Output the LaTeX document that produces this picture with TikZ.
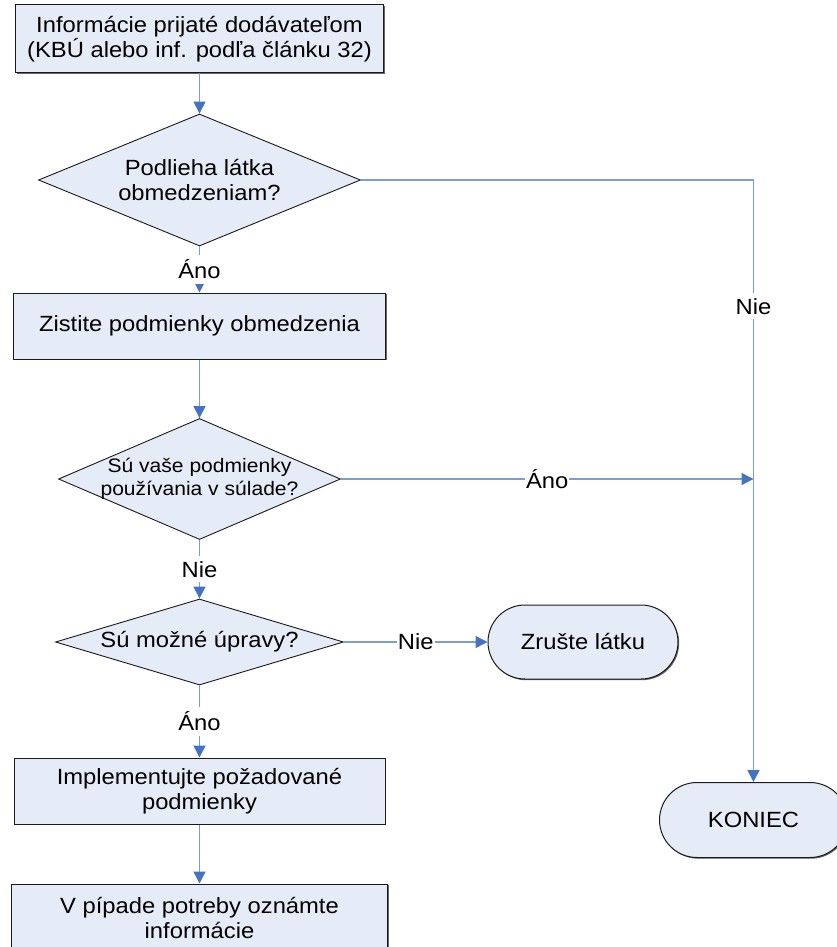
\documentclass[tikz,border=0pt]{standalone}
\usepackage{fontspec}
\setmainfont{Liberation Sans}[FakeStretch=1.08]
\usetikzlibrary{shapes.geometric,shapes.misc,arrows.meta,shadows}

\definecolor{boxfill}{HTML}{E6ECF7}
\definecolor{edgeblue}{HTML}{7A9DD4}
\definecolor{tipblue}{HTML}{4472C4}
\definecolor{border}{HTML}{1A1A1A}

\tikzset{
  basefont/.style={font=\fontsize{22pt}{25pt}\selectfont},
  process/.style={basefont, rectangle, draw=border, line width=1pt, fill=boxfill,
    align=center, inner sep=0pt,
    drop shadow={shadow xshift=1.2pt, shadow yshift=-1.2pt, fill=black!60, opacity=1}},
  terminal/.style={basefont, rounded rectangle, draw=border, line width=1pt, fill=boxfill,
    align=center, inner sep=0pt,
    drop shadow={shadow xshift=1.2pt, shadow yshift=-1.2pt, fill=black!60, opacity=1}},
  decision/.style={diamond, draw=border, line width=0.9pt, fill=boxfill, inner sep=0pt},
  dtext/.style={basefont, align=center, inner sep=0pt},
  conn/.style={draw=edgeblue, line width=1.4pt,
    -{Triangle[length=12pt,width=12pt,fill=tipblue,color=tipblue]}},
  lbl/.style={basefont, fill=white, inner xsep=1pt, inner ysep=5pt, text=black}
}

\begin{document}
\begin{tikzpicture}[x=1pt, y=-1pt]
  \useasboundingbox (0,0) rectangle (837,947);

  % main column
  \node[process, minimum width=368pt, minimum height=68pt] (b1) at (199.5,39)
    {Informácie prijaté dodávateľom\\(KBÚ alebo inf. podľa článku 32)};
  \node[decision, minimum width=322pt, minimum height=132pt,
        label={[dtext]center:{Podlieha látka\\obmedzeniam?}}] (d1) at (199.5,180) {};
  \node[process, minimum width=372pt, minimum height=66pt] (b2) at (199.5,326)
    {Zistite podmienky obmedzenia};
  \node[decision, minimum width=282pt, minimum height=121pt,
        label={[dtext, font=\fontsize{19.5pt}{23pt}\selectfont]center:{Sú vaše podmienky\\používania v súlade?}}] (d2) at (199.5,479) {};
  \node[decision, minimum width=288pt, minimum height=86pt,
        label={[dtext]center:{Sú možné úpravy?}}] (d3) at (199.5,642) {};
  \node[process, minimum width=371pt, minimum height=66pt] (b3) at (199.5,791)
    {Implementujte požadované\\podmienky};
  \node[process, minimum width=376pt, minimum height=68pt] (b4) at (199.5,918)
    {V pípade potreby oznámte\\informácie};

  % side terminals
  \node[terminal, minimum width=190pt, minimum height=74pt] (zr) at (583,642) {Zrušte látku};
  \node[terminal, minimum width=188pt, minimum height=75pt] (kon) at (753.5,820) {KONIEC};
  \coordinate (jn) at (kon.north |- d2.east);

  % connectors
  \draw[conn] (b1.south) -- (d1.north);
  \draw[conn] (d1.south) -- node[lbl] {Áno} (b2.north);
  \draw[conn] (d1.east) -| node[lbl, pos=0.605] {Nie} (kon.north);
  \draw[conn] (b2.south) -- (d2.north);
  \draw[conn] (d2.east) -- node[lbl, inner ysep=1pt] {Áno} (jn);
  \draw[conn] (d2.south) -- node[lbl] {Nie} (d3.north);
  \draw[conn] (d3.east) -- node[lbl, inner ysep=1pt] {Nie} (zr.west);
  \draw[conn] (d3.south) -- node[lbl] {Áno} (b3.north);
  \draw[conn] (b3.south) -- (b4.north);
\end{tikzpicture}
\end{document}
